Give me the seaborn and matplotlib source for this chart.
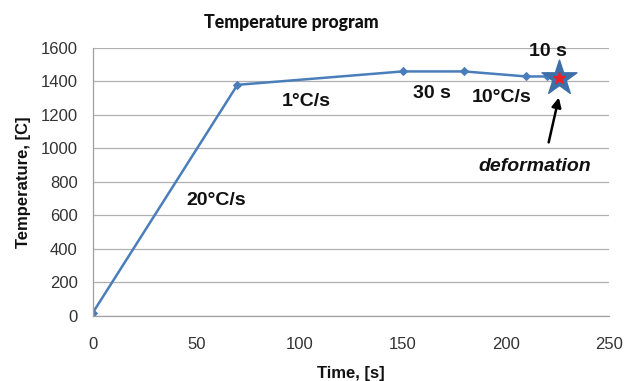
import matplotlib
matplotlib.use("Agg")
import matplotlib.pyplot as plt
import seaborn as sns
import pandas as pd

time_s = [0, 70, 150, 180, 210, 220]
temp_c = [20, 1380, 1460, 1460, 1430, 1430]
deform_time = [226]
deform_temp = [1420]
x_ticks = [0, 50, 100, 150, 200, 250]
y_ticks = [0, 200, 400, 600, 800, 1000, 1200, 1400, 1600]

sns.set_theme(style="white")
plt.rcParams['font.family'] = ['Liberation Sans', 'DejaVu Sans']

df = pd.DataFrame({"Time": time_s + deform_time, "Temp": temp_c + deform_temp})

fig = plt.figure(figsize=(6.41, 3.81), dpi=100)
ax = fig.add_axes([0.145, 0.171, 0.805, 0.703])
blue = "#4A7EBB"
sns.lineplot(data=df, x="Time", y="Temp", ax=ax, color=blue, lw=1.8,
             marker="D", markersize=4, markeredgecolor=blue)
ax.scatter(deform_time, deform_temp, marker="*", s=700, color="#3F6FA8", zorder=5)
ax.scatter(deform_time, deform_temp, marker="*", s=80, color="#E8202A", zorder=6)

ax.set_xlim(0, 250)
ax.set_ylim(0, 1600)
ax.set_xticks(x_ticks)
ax.set_yticks(y_ticks)
ax.tick_params(axis="both", labelsize=12, length=0, colors="#333333")
ax.tick_params(axis="y", pad=11)
ax.tick_params(axis="x", pad=15)
ax.yaxis.grid(True, color="#B0B0B0", lw=0.9)
ax.xaxis.grid(False)
for s in ["top", "right"]:
    ax.spines[s].set_visible(False)
for s in ["left", "bottom"]:
    ax.spines[s].set_color("#A0A0A0")
    ax.spines[s].set_linewidth(0.9)

ax.set_xlabel("Time, [s]", fontsize=12, fontweight="bold", labelpad=10, color="#111111")
ax.set_ylabel("Temperature, [C]", fontsize=12, fontweight="bold", labelpad=7, color="#111111")
fig.text(0.454, 0.94, "Temperature program", fontsize=12.8, fontweight="black",
         ha="center", va="center", color="#111111", family=["Lato", "DejaVu Sans"])

kw = dict(fontsize=14, fontweight="bold", ha="center", va="center", color="#111111")
ax.text(103.5, 1278, "1°C/s", **kw)
ax.text(59.5, 692, "20°C/s", **kw)
ax.text(164, 1331, "30 s", **kw)
ax.text(198, 1307, "10°C/s", **kw)
ax.text(220.5, 1582, "10 s", **kw, clip_on=False)
ax.text(214, 890, "deformation", fontsize=14, fontweight="bold", style="italic",
        ha="center", va="center", color="#111111")
ax.annotate("", xy=(226, 1320), xytext=(220.5, 1020),
            arrowprops=dict(arrowstyle="-|>", color="black", lw=1.8, mutation_scale=14))

fig.savefig("out.png", dpi=100)
